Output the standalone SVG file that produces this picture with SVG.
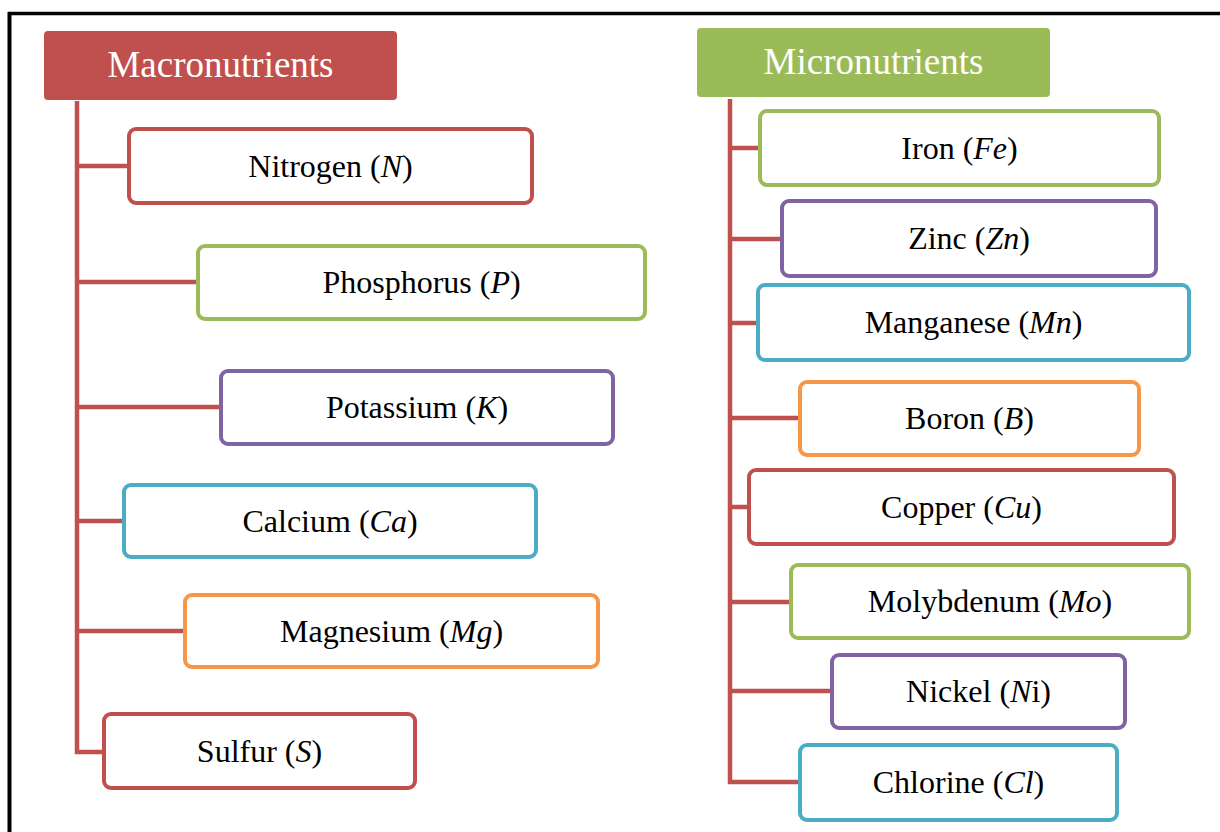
<svg xmlns="http://www.w3.org/2000/svg" width="1220" height="832" viewBox="0 0 1220 832">
<style>
.node{fill:#fff;stroke-width:4}
.red{stroke:#C0504D}.green{stroke:#9BBB59}.purple{stroke:#8064A2}.blue{stroke:#4BACC6}.orange{stroke:#F79646}
.lbl{font-family:"Liberation Serif","Times New Roman",serif;font-size:32px;fill:#000;text-anchor:middle}
.hdr{font-family:"Liberation Serif","Times New Roman",serif;font-size:37px;fill:#fff;text-anchor:middle}
.conn{stroke:#C0504D;stroke-width:4.5;fill:none}
</style>
<rect width="1220" height="832" fill="#fff"/>
<g id="frame" fill="none" stroke="#000">
<line x1="8" y1="13.5" x2="1220" y2="13.5" stroke-width="3.5"/>
<line x1="9.5" y1="12" x2="9.5" y2="832" stroke-width="4"/>
</g>
<g id="connectors" class="conn">
<path d="M77 101 V752 H102"/>
<line x1="77" y1="166" x2="127" y2="166"/>
<line x1="77" y1="282" x2="196" y2="282"/>
<line x1="77" y1="407" x2="219" y2="407"/>
<line x1="77" y1="521" x2="122" y2="521"/>
<line x1="77" y1="631" x2="183" y2="631"/>
<path d="M730 99 V782 H798"/>
<line x1="730" y1="148" x2="758" y2="148"/>
<line x1="730" y1="239" x2="780" y2="239"/>
<line x1="730" y1="323" x2="756" y2="323"/>
<line x1="730" y1="418" x2="798" y2="418"/>
<line x1="730" y1="507" x2="747" y2="507"/>
<line x1="730" y1="602" x2="789" y2="602"/>
<line x1="730" y1="691" x2="830" y2="691"/>
</g>
<g id="macronutrients">
<rect x="44" y="31" width="353" height="69" rx="4" fill="#C0504D"/>
<text class="hdr" x="220.5" y="77">Macronutrients</text>
</g>
<g id="micronutrients">
<rect x="697" y="28" width="353" height="69" rx="4" fill="#9BBB59"/>
<text class="hdr" x="873.5" y="74">Micronutrients</text>
</g>
<g id="nitrogen"><rect class="node red" x="129" y="129" width="403" height="74" rx="7"/><text class="lbl" x="330.5" y="176.5">Nitrogen (<tspan font-style="italic">N</tspan>)</text></g>
<g id="phosphorus"><rect class="node green" x="198" y="246" width="447" height="73" rx="7"/><text class="lbl" x="421.5" y="293">Phosphorus (<tspan font-style="italic">P</tspan>)</text></g>
<g id="potassium"><rect class="node purple" x="221" y="371" width="392" height="73" rx="7"/><text class="lbl" x="417" y="418">Potassium (<tspan font-style="italic">K</tspan>)</text></g>
<g id="calcium"><rect class="node blue" x="124" y="485" width="412" height="72" rx="7"/><text class="lbl" x="330" y="531.5">Calcium (<tspan font-style="italic">Ca</tspan>)</text></g>
<g id="magnesium"><rect class="node orange" x="185" y="595" width="413" height="72" rx="7"/><text class="lbl" x="391.5" y="641.5">Magnesium (<tspan font-style="italic">Mg</tspan>)</text></g>
<g id="sulfur"><rect class="node red" x="104" y="714" width="311" height="74" rx="7"/><text class="lbl" x="259.5" y="761.5">Sulfur (<tspan font-style="italic">S</tspan>)</text></g>
<g id="iron"><rect class="node green" x="760" y="111" width="399" height="74" rx="7"/><text class="lbl" x="959.5" y="158.5">Iron (<tspan font-style="italic">Fe</tspan>)</text></g>
<g id="zinc"><rect class="node purple" x="782" y="201" width="374" height="75" rx="7"/><text class="lbl" x="969" y="249">Zinc (<tspan font-style="italic">Zn</tspan>)</text></g>
<g id="manganese"><rect class="node blue" x="758" y="285" width="431" height="75" rx="7"/><text class="lbl" x="973.5" y="333">Manganese (<tspan font-style="italic">Mn</tspan>)</text></g>
<g id="boron"><rect class="node orange" x="800" y="382" width="339" height="73" rx="7"/><text class="lbl" x="969.5" y="429">Boron (<tspan font-style="italic">B</tspan>)</text></g>
<g id="copper"><rect class="node red" x="749" y="470" width="425" height="74" rx="7"/><text class="lbl" x="961.5" y="517.5">Copper (<tspan font-style="italic">Cu</tspan>)</text></g>
<g id="molybdenum"><rect class="node green" x="791" y="565" width="398" height="73" rx="7"/><text class="lbl" x="990" y="612">Molybdenum (<tspan font-style="italic">Mo</tspan>)</text></g>
<g id="nickel"><rect class="node purple" x="832" y="655" width="293" height="73" rx="7"/><text class="lbl" x="978.5" y="702">Nickel (<tspan font-style="italic">N</tspan>i)</text></g>
<g id="chlorine"><rect class="node blue" x="800" y="745" width="317" height="75" rx="7"/><text class="lbl" x="958.5" y="793">Chlorine (<tspan font-style="italic">Cl</tspan>)</text></g>
</svg>
